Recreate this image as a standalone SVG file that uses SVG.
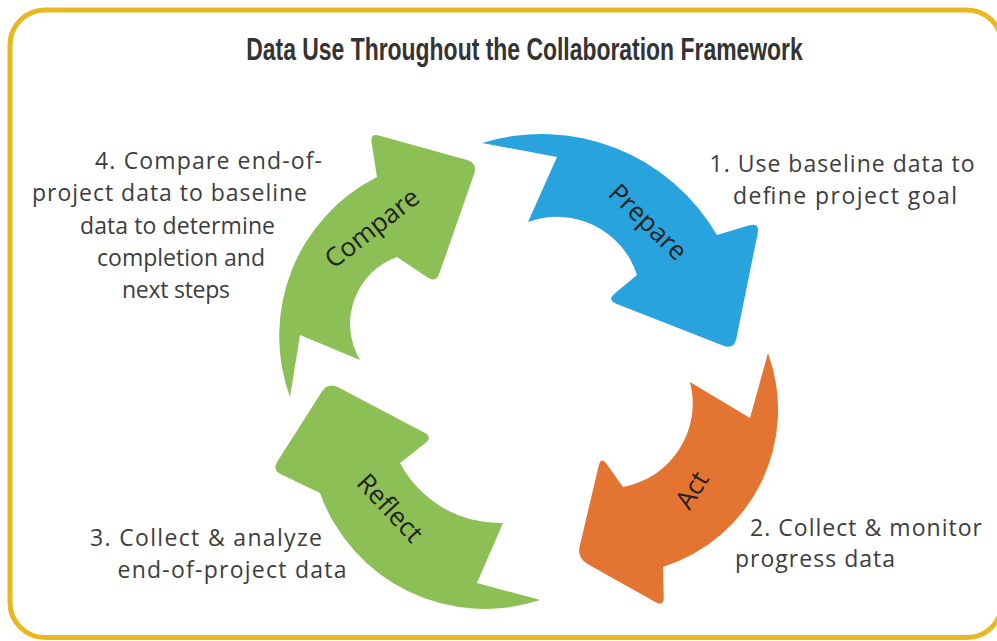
<svg xmlns="http://www.w3.org/2000/svg" width="997" height="641" viewBox="0 0 997 641">
<style>
  .frame { fill: #ffffff; stroke: #E8B823; stroke-width: 5; }
  .title { font-family: "Liberation Sans", "DejaVu Sans", sans-serif; font-weight: bold; font-size: 31px; fill: #333333; }
  .body { font-family: "Open Sans", "Noto Sans", sans-serif; font-size: 23px; fill: #3d3d3d; text-anchor: middle; }
  .lbl { font-family: "Open Sans", "Noto Sans", sans-serif; font-size: 26px; fill: #222222; text-anchor: middle; }
  .blue { fill: #29A3DD; }
  .orange { fill: #E47431; }
  .green { fill: #8CBF55; }
</style>
<rect class="frame" x="10" y="10" width="992" height="627.5" rx="35" ry="35"/>
<text class="title" transform="translate(524.5,60) scale(0.74,1)" x="0" y="0" text-anchor="middle">Data Use Throughout the Collaboration Framework</text>

<g id="connectors">
  <path id="arrow-prepare" class="blue" d="M 482 143 A 203 203 0 0 1 717 235 L 748.5 225.5 Q 760 222 757.6 233.8 L 736.4 338.2 Q 734 350 722.8 345.6 L 616.3 303.7 Q 607 300 614.7 293.6 L 637 275 A 84 84 0 0 0 528 222 L 557 157 Z"/>
  <path id="arrow-act" class="orange" d="M 768 353 A 165 165 0 0 1 663 567 L 663.75 597 Q 664 607 655.3 602.1 L 587.5 563.9 Q 577 558 579.7 546.3 L 598.7 465.7 Q 601 456 606.8 464.2 L 623 487 A 85 85 0 0 0 690 382 L 750 418 Z"/>
  <path id="arrow-reflect" class="green" d="M 540 600 A 175 175 0 0 1 320 493 L 281 474.3 Q 272 470 277.4 461.6 L 321.6 392.1 Q 328 382 338.6 387.6 L 424.1 432.4 Q 433 437 425.1 443.2 L 400 463 A 113 113 0 0 0 503 523 L 477 583 Z"/>
  <path id="arrow-compare" class="green" d="M 290 397 A 178 178 0 0 1 377 177 L 371.6 142.9 Q 370 133 379.6 135.7 L 466.4 159.8 Q 478 163 474 174.3 L 439.3 273.6 Q 436 283 427.7 277.5 L 397 257 A 71 71 0 0 0 360 360 L 300 335 Z"/>
</g>

<g id="node-prepare">
  <text class="lbl" transform="translate(648,222) rotate(44)" y="9">Prepare</text>
  <text class="body" x="842" y="172" textLength="265">1. Use baseline data to</text>
  <text class="body" x="845" y="204" textLength="224">define project goal</text>
</g>
<g id="node-act">
  <text class="lbl" transform="translate(692,490) rotate(-58)" y="9">Act</text>
  <text class="body" x="866" y="536" textLength="232">2. Collect &amp; monitor</text>
  <text class="body" x="815" y="567" textLength="160">progress data</text>
</g>
<g id="node-reflect">
  <text class="lbl" transform="translate(390,508) rotate(47)" y="9">Reflect</text>
  <text class="body" x="206" y="546" textLength="232">3. Collect &amp; analyze</text>
  <text class="body" x="232" y="578" textLength="229">end-of-project data</text>
</g>
<g id="node-compare">
  <text class="lbl" transform="translate(372,228) rotate(-38)" y="9">Compare</text>
  <text class="body" x="208.5" y="169" textLength="227">4. Compare end-of-</text>
  <text class="body" x="169.5" y="201" textLength="275">project data to baseline</text>
  <text class="body" x="177.5" y="234" textLength="195">data to determine</text>
  <text class="body" x="181" y="266" textLength="168">completion and</text>
  <text class="body" x="176" y="298" textLength="108">next steps</text>
</g>
</svg>
